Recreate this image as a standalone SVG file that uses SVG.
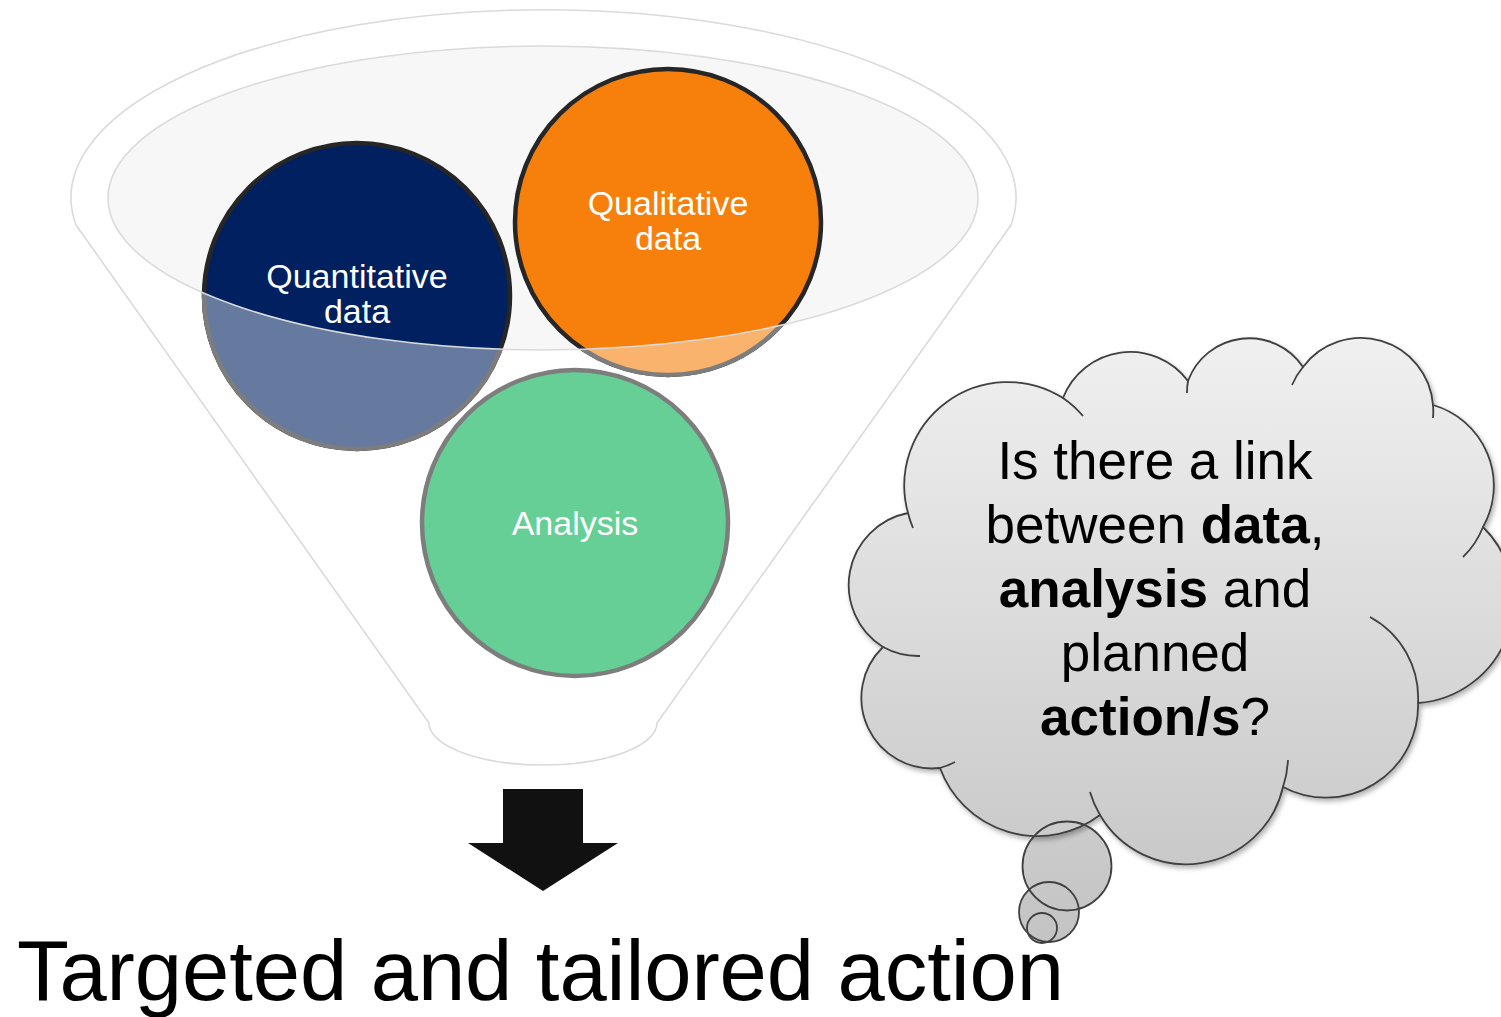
<svg xmlns="http://www.w3.org/2000/svg" width="1501" height="1017" viewBox="0 0 1501 1017">
  <defs>
    <style>
      .funnel-line{fill:none;stroke:#dadada;stroke-width:1.6}
      .rim-fill{fill:#f7f7f7;stroke:none}
      .node-label{font-family:"Liberation Sans",Arial,Helvetica,sans-serif;font-size:34px;fill:#ffffff;text-anchor:middle}
      .ring-dark{stroke:#262626;stroke-width:4.5}
      .ring-wash{stroke:#7d7d7d;stroke-width:4.5}
      .cloud-stroke{stroke:#404040;stroke-width:1.8}
      .question{font-family:"Liberation Sans",Arial,Helvetica,sans-serif;font-size:53px;fill:#000000;text-anchor:middle}
      .question .b{font-weight:bold}
      .title{font-family:"Liberation Sans",Arial,Helvetica,sans-serif;font-size:85px;fill:#000000}
    </style>
    <!-- everything outside the funnel rim (the front of the funnel) -->
    <clipPath id="belowRim">
      <path clip-rule="evenodd" d="M0,0H1501V1017H0Z M108,198 A435,152 0 1 0 978,198 A435,152 0 1 0 108,198Z"/>
    </clipPath>
    <linearGradient id="cloudFill" gradientUnits="userSpaceOnUse" x1="0" y1="338" x2="0" y2="945">
      <stop offset="0" stop-color="#f0f0f0"/>
      <stop offset="1" stop-color="#c3c3c3"/>
    </linearGradient>
    <filter id="cloudShadow" x="-10%" y="-10%" width="125%" height="125%">
      <feDropShadow dx="2" dy="3" stdDeviation="2.5" flood-color="#000000" flood-opacity="0.3"/>
    </filter>
  </defs>

  <!-- funnel body and rim -->
  <g id="funnel">
    <path class="funnel-line" d="M76,225 A472.5,188 0 1 1 1011,225 L657,723 A114,42 0 0 1 429,723 Z"/>
    <ellipse class="rim-fill" cx="543" cy="198" rx="435" ry="152"/>
  </g>

  <!-- Quantitative data -->
  <g id="node-quantitative">
    <circle class="ring-dark" cx="357" cy="296" r="153" fill="#002060"/>
    <circle class="ring-wash" cx="357" cy="296" r="153" fill="#66799f" clip-path="url(#belowRim)"/>
    <text class="node-label" x="357" y="288">Quantitative</text>
    <text class="node-label" x="357" y="323">data</text>
  </g>

  <!-- Qualitative data -->
  <g id="node-qualitative">
    <circle class="ring-dark" cx="668" cy="222" r="153" fill="#f6800b"/>
    <circle class="ring-wash" cx="668" cy="222" r="153" fill="#f9b36c" clip-path="url(#belowRim)"/>
    <text class="node-label" x="668" y="215">Qualitative</text>
    <text class="node-label" x="668" y="250">data</text>
  </g>

  <!-- Analysis -->
  <g id="node-analysis">
    <circle class="ring-wash" cx="575" cy="523" r="153" fill="#66cf96"/>
    <text class="node-label" x="575" y="535">Analysis</text>
  </g>

  <!-- rim edge drawn over the circles -->
  <g id="funnel-rim-edge">
    <ellipse class="funnel-line" cx="543" cy="198" rx="435" ry="152"/>
  </g>

  <!-- connector: funnel output arrow -->
  <g id="connectors">
    <polygon points="503,789 583,789 583,843 618,843 543,891 468,843 503,843" fill="#111111"/>
  </g>

  <!-- result -->
  <g id="node-result">
    <text class="title" x="17" y="1000" textLength="1047" lengthAdjust="spacing">Targeted and tailored action</text>
  </g>

  <!-- thought cloud with question -->
  <g id="node-question">
    <g fill="url(#cloudFill)">
      <circle cx="1067" cy="866" r="44.5"/>
      <circle cx="1049" cy="912" r="30"/>
      <circle cx="1042" cy="928" r="15"/>
    </g>
    <path class="cloud-stroke" fill="url(#cloudFill)" filter="url(#cloudShadow)"
      d="M908,513 A103.5,103.5 0 0 1 1063,398 A72,72 0 0 1 1188,381 A65,65 0 0 1 1303,367 A72.3,72.3 0 0 1 1433,405 A84,84 0 0 1 1483,527 A103,103 0 0 1 1418,703 A92,92 0 0 1 1283,787 A99.6,99.6 0 0 1 1100,815 A103.8,103.8 0 0 1 940,768 A70.6,70.6 0 0 1 883,647 A73.3,73.3 0 0 1 908,513 Z"/>
    <path class="cloud-stroke" fill="none"
      d="M913,528 A103.5,103.5 0 0 1 908,513
         M1063,398 A103.5,103.5 0 0 1 1083,416
         M1187,393 A65,65 0 0 1 1188,381
         M1292,385 A72.3,72.3 0 0 1 1303,367
         M1433,405 A72.3,72.3 0 0 1 1433,418
         M1483,527 A84,84 0 0 1 1463,557
         M1370,617 A92,92 0 0 1 1418,703
         M1288,760 A99.6,99.6 0 0 1 1283,787
         M1100,815 A99.6,99.6 0 0 1 1090,792
         M955,762 A70.6,70.6 0 0 1 940,768
         M920,656 A73.3,73.3 0 0 1 883,647"/>
    <g class="cloud-stroke" fill="none">
      <circle cx="1067" cy="866" r="44.5"/>
      <circle cx="1049" cy="912" r="30"/>
      <circle cx="1042" cy="928" r="15"/>
    </g>
    <text class="question"><tspan x="1155" y="479">Is there a link</tspan><tspan x="1155" y="543">between <tspan class="b">data</tspan>,</tspan><tspan x="1155" y="607"><tspan class="b">analysis</tspan> and</tspan><tspan x="1155" y="671">planned</tspan><tspan x="1155" y="735"><tspan class="b">action/s</tspan>?</tspan></text>
  </g>
</svg>
